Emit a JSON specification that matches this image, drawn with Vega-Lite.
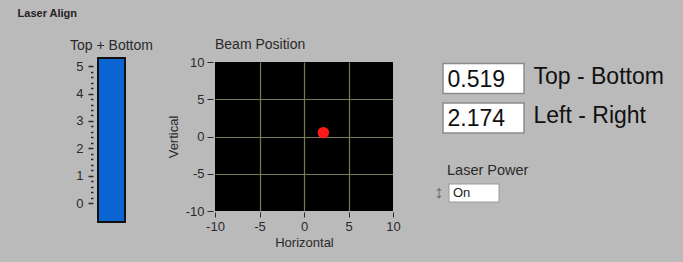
{
  "$schema": "https://vega.github.io/schema/vega-lite/v6.json",
  "background": "#bababa",
  "padding": {"left": 17, "top": 8, "right": 30, "bottom": 20},
  "title": {"text": "Laser Align", "anchor": "start", "frame": "bounds", "dx": -52, "fontSize": 11, "font": "Liberation Sans", "fontWeight": "bold", "color": "#222222", "offset": 19},
  "config": {
    "font": "Liberation Sans",
    "locale": {"number": {"decimal": ".", "thousands": ",", "grouping": [3], "currency": ["$", ""], "minus": "-"}},
    "view": {"stroke": null},
    "axis": {"labelFont": "Liberation Sans", "titleFont": "Liberation Sans", "labelColor": "#2a2a2a", "titleColor": "#2a2a2a", "titleFontWeight": "normal", "labelFontSize": 13, "titleFontSize": 13, "tickColor": "#2a2a2a", "domain": false, "grid": false},
    "title": {"font": "Liberation Sans", "fontWeight": "normal", "fontSize": 14, "color": "#2a2a2a", "anchor": "start"}
  },
  "datasets": {
    "gauge": [{"name": "Top + Bottom", "value": 5.3}],
    "beam": [{"horizontal": 2.174, "vertical": 0.519}],
    "readouts": [{"label": "Top - Bottom", "value": 0.519}, {"label": "Left - Right", "value": 2.174}],
    "power": [{"control": "Laser Power", "state": "On"}]
  },
  "spacing": 33,
  "hconcat": [
    {
      "spacing": 14,
      "hconcat": [
        {
          "data": {"name": "gauge"},
          "width": 27,
          "height": 160,
          "mark": {"type": "bar", "fill": "#0a64d2", "stroke": "#111111", "strokeWidth": 2},
          "encoding": {
            "x": {"field": "name", "type": "nominal", "scale": {"paddingInner": 0, "paddingOuter": 0}, "axis": {"orient": "top", "title": null, "ticks": false, "labelPadding": 10, "labelAngle": 0, "labelLimit": 200, "labelFontSize": 14}},
            "y": {"field": "value", "type": "quantitative", "scale": {"domain": [-0.694, 5.154], "zero": false, "nice": false}, "axis": {"title": null, "offset": 5, "labelPadding": 5, "values": [0, 0.2, 0.4, 0.6, 0.8, 1, 1.2, 1.4, 1.6, 1.8, 2, 2.2, 2.4, 2.6, 2.8, 3, 3.2, 3.4, 3.6, 3.8, 4, 4.2, 4.4, 4.6, 4.8, 5], "labelExpr": "datum.value % 1 === 0 ? format(datum.value, 'd') : ''", "tickSize": {"condition": {"test": "datum.value % 1 === 0", "value": 5}, "value": 2.5}, "tickWidth": 1.5}},
            "y2": {"datum": -0.694}
          }
        },
        {
          "data": {"name": "beam"},
          "width": 178,
          "height": 149,
          "view": {"fill": "#000000", "stroke": null},
          "title": {"text": "Beam Position", "offset": 4, "frame": "group"},
          "mark": {"type": "point", "filled": true, "color": "#ff1a1a", "size": 130, "opacity": 1},
          "encoding": {
            "x": {"field": "horizontal", "type": "quantitative", "title": "Horizontal", "scale": {"domain": [-10, 10], "nice": false}, "axis": {"values": [-10, -5, 0, 5, 10], "labelFlush": false, "grid": true, "gridColor": "#7a7a52", "gridWidth": 1.2, "gridOpacity": {"condition": {"test": "abs(datum.value) === 10", "value": 0}, "value": 1}, "tickSize": 5, "offset": 1, "labelPadding": 3, "titlePadding": 3}},
            "y": {"field": "vertical", "type": "quantitative", "title": "Vertical", "scale": {"domain": [-10, 10], "nice": false}, "axis": {"values": [-10, -5, 0, 5, 10], "labelFlush": false, "grid": true, "gridColor": "#7a7a52", "gridWidth": 1.2, "gridOpacity": {"condition": {"test": "abs(datum.value) === 10", "value": 0}, "value": 1}, "tickSize": 6, "offset": 2, "labelPadding": 3, "titlePadding": 5}}
          }
        }
      ]
    },
    {
      "spacing": 50,
      "bounds": "flush",
      "vconcat": [
        {
          "data": {"name": "readouts"},
          "width": 81,
          "height": 71,
          "encoding": {
            "y": {"field": "label", "type": "nominal", "sort": null, "scale": {"paddingInner": 0.24, "paddingOuter": 0.02, "align": 1}, "axis": {"orient": "right", "title": null, "ticks": false, "labelFontSize": 23, "labelPadding": 9, "labelColor": "#111111", "labelLimit": 300, "labelOffset": -2}}
          },
          "layer": [
            {"mark": {"type": "bar", "fill": "#ffffff", "stroke": "#8c8c8c", "strokeWidth": 1.5}},
            {"mark": {"type": "text", "align": "left", "dx": -36, "dy": 1, "fontSize": 23, "color": "#111111"}, "encoding": {"text": {"field": "value", "type": "quantitative", "format": ".3f"}}}
          ]
        },
        {
          "data": {"name": "power"},
          "width": 56,
          "height": 20,
          "title": {"text": "Laser Power", "offset": 5, "dx": 4, "fontSize": 14.5, "frame": "group"},
          "encoding": {
            "x": {"field": "state", "type": "nominal", "scale": {"paddingInner": 0, "paddingOuter": 0.06, "align": 1}, "axis": null},
            "y": {"field": "control", "type": "nominal", "axis": {"title": null, "ticks": false, "labelExpr": "'↕'", "labelFontSize": 18, "labelColor": "#666666", "labelPadding": 0}}
          },
          "layer": [
            {"mark": {"type": "bar", "fill": "#ffffff", "stroke": "#9a9a9a", "strokeWidth": 1}},
            {"mark": {"type": "text", "align": "left", "dx": -21, "fontSize": 13, "color": "#222222"}, "encoding": {"text": {"field": "state", "type": "nominal"}}}
          ]
        }
      ]
    }
  ]
}
